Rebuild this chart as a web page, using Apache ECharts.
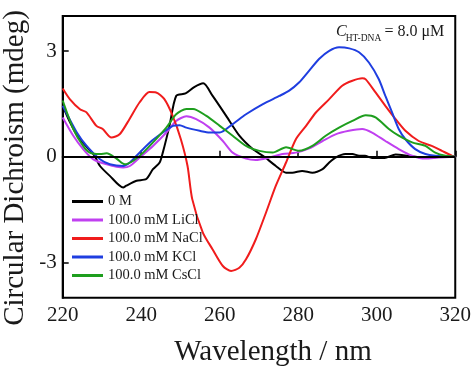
<!DOCTYPE html>
<html><head><meta charset="utf-8">
<script src="https://cdn.jsdelivr.net/npm/echarts@6/dist/echarts.min.js"></script>
<style>html,body{margin:0;padding:0;background:#fff}#c{width:474px;height:370px}</style>
</head><body><div id="c"></div>
<script>
const seriesNames = ['0 M', '100.0 mM LiCl', '100.0 mM NaCl', '100.0 mM KCl', '100.0 mM CsCl'];
const xTicks = [220, 240, 260, 280, 300, 320];
const yTicks = [-3, 0, 3];

const x0M = [220,222,224,226,228,229.5,232,235.4,236.2,238.8,241.3,243,244.7,245.5,247.2,248.9,251.3,253.5,255.8,258.2,261.6,265,268.4,271,274.3,276.9,278.5,281,283.6,286.2,287.9,289.5,292,293.8,295.5,297,298.8,302,304.8,308,312.4,315.8,319.6];
const y0M = [1.45,0.95,0.55,0.3,0.05,-0.26,-0.54,-0.87,-0.82,-0.68,-0.63,-0.35,-0.16,0.12,0.88,1.73,1.8,1.98,2.09,1.73,1.17,0.6,0.22,0.03,-0.26,-0.45,-0.45,-0.4,-0.45,-0.35,-0.16,-0.02,0.08,0.08,0.03,0.03,-0.03,-0.03,0.07,0.03,-0.03,0,0.02];

const xLi = [220,222.7,225.2,227.8,231.2,235.4,237.1,239.6,243,246.4,248.9,251.5,254,257.4,260.8,263.3,266.7,269.2,272.6,276,279.4,282.8,286.2,289.5,292.9,296.3,298.8,302.2,305.6,309,312.4,315.8,320];
const yLi = [1.12,0.6,0.22,-0.07,-0.21,-0.3,-0.26,-0.02,0.31,0.69,1.02,1.15,1.07,0.83,0.45,0.12,-0.05,-0.09,-0.02,0.08,0.12,0.24,0.45,0.64,0.74,0.79,0.69,0.45,0.22,0.03,-0.05,-0.02,0];

const xNa = [220,221.8,224.4,226,228.6,230.2,232.4,234.5,237,239.6,242.1,243.8,245.9,248,250.1,251.8,253,255.7,258.2,260.8,262.9,265,266.7,269.2,271.8,274.3,276.9,279.4,282,284.5,287.9,291.2,293.8,296.3,297.2,299.7,302.2,304.8,307.3,310.7,314,316.6,319.2,320];
const yNa = [1.94,1.64,1.35,1.27,0.88,0.79,0.55,0.64,1.07,1.55,1.84,1.83,1.64,1.17,0.5,-0.26,-1.2,-2.15,-2.63,-3.1,-3.24,-3.15,-2.91,-2.34,-1.58,-0.82,-0.16,0.5,0.88,1.26,1.64,2.02,2.16,2.23,2.2,1.83,1.45,1.07,0.74,0.45,0.31,0.17,0.03,0];

const xK = [220,223.6,226.1,229.5,232,235.4,237.1,238.8,242.2,245.5,248.1,249.8,251.5,254.9,257.4,260,263.3,266.7,271,275.2,277.7,280.2,282.8,285.3,287.9,290.4,293,295.5,298,300.5,302.2,303.9,305.6,307.3,309.8,312.4,314.9,319.2,320];
const yK = [1.45,0.69,0.31,-0.07,-0.21,-0.26,-0.16,0.03,0.41,0.69,0.88,0.9,0.83,0.74,0.69,0.69,0.93,1.21,1.5,1.73,1.88,2.11,2.45,2.78,3.01,3.11,3.08,2.97,2.68,2.21,1.73,1.26,0.79,0.5,0.22,0.08,0.03,0,0];

const xCs = [220,222.7,225.2,226.9,229.5,231.2,233.7,235.8,238,240.5,243,246.4,248.9,251.5,253.2,256.5,260,263.3,266.7,270.1,273.5,276.9,280.2,283.6,287,290.4,293.8,297.2,299.7,303.1,305.6,309,312.4,314.9,317.5,320];
const yCs = [1.6,0.79,0.31,0.12,0.08,0.1,-0.05,-0.21,-0.11,0.12,0.41,0.83,1.21,1.36,1.36,1.17,0.88,0.6,0.31,0.17,0.12,0.27,0.17,0.31,0.6,0.83,1.02,1.18,1.12,0.79,0.6,0.41,0.31,0.12,0.03,0];

const xs = [x0M, xLi, xNa, xK, xCs];
const ys = [y0M, yLi, yNa, yK, yCs];
const colors = ['#000000', '#c040f0', '#f01c1c', '#1f3ee0', '#1e9e1e'];
const serif = '"Liberation Serif", "DejaVu Serif", serif';

const chart = echarts.init(document.getElementById('c'));
const series = seriesNames.map((name, k) => ({
  name, type: 'line', showSymbol: false, smooth: 0.25,
  lineStyle: { color: colors[k], width: 2 }, itemStyle: { color: colors[k] },
  data: xs[k].map((x, i) => [x, ys[k][i]]),
  z: 2
}));
series[0].markLine = {
  silent: true, symbol: 'none', label: { show: false },
  lineStyle: { color: '#000', width: 2, type: 'solid' },
  data: [{ yAxis: 0 }]
};

chart.setOption({
  animation: false,
  grid: { left: 62.7, right: 17.3, top: 16, bottom: 72.3, show: true, borderColor: '#000', borderWidth: 2 },
  xAxis: {
    type: 'value', min: 220, max: 320, interval: 20,
    axisLine: { show: true, lineStyle: { color: '#000', width: 2 } },
    axisTick: { show: true, inside: true, length: 6, lineStyle: { color: '#000', width: 1.5 } },
    axisLabel: { color: '#1a1a1a', fontFamily: serif, fontSize: 21, margin: 7,
      customValues: xTicks },
    splitLine: { show: false }
  },
  yAxis: {
    type: 'value', min: -4, max: 4, interval: 1,
    axisLine: { show: true, lineStyle: { color: '#000', width: 2 } },
    axisTick: { show: true, inside: true, length: 6, lineStyle: { color: '#000', width: 1.5 }, customValues: yTicks },
    axisLabel: { color: '#1a1a1a', fontFamily: serif, fontSize: 21, margin: 6, customValues: yTicks },
    splitLine: { show: false }
  },
  legend: {
    orient: 'vertical', left: 72, top: 194, padding: 0, itemWidth: 31, itemHeight: 3, itemGap: 3.5,
    icon: 'rect',
    textStyle: { fontFamily: serif, fontSize: 14.5, color: '#1a1a1a' },
    data: seriesNames
  },
  graphic: [
    { type: 'text', x: 15, y: 168, rotation: Math.PI / 2,
      style: { text: 'Circular Dichroism (mdeg)', font: '29px ' + serif, fill: '#1a1a1a', align: 'center', verticalAlign: 'middle' } },
    { type: 'text', x: 273, y: 352,
      style: { text: 'Wavelength / nm', font: '29px ' + serif, fill: '#1a1a1a', align: 'center', verticalAlign: 'middle' } },
    { type: 'text', x: 336, y: 31.3,
      style: { text: 'C', font: 'italic 16px ' + serif, fill: '#1a1a1a', align: 'left', verticalAlign: 'middle' } },
    { type: 'text', x: 345.7, y: 38.4,
      style: { text: 'HT-DNA', font: '9.5px ' + serif, fill: '#1a1a1a', align: 'left', verticalAlign: 'middle' } },
    { type: 'text', x: 384.5, y: 31.3,
      style: { text: '= 8.0 μM', font: '16px ' + serif, fill: '#1a1a1a', align: 'left', verticalAlign: 'middle' } }
  ],
  series
});
</script></body></html>
